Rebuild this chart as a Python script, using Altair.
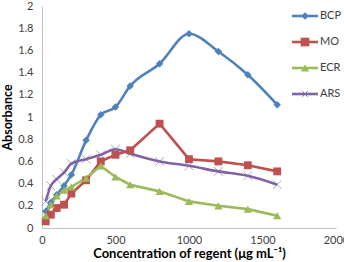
import altair as alt
import pandas as pd

# Reagent concentration (µg mL-1) and absorbance for each dye
conc = [25, 60, 100, 150, 200, 300, 400, 500, 600, 800, 1000, 1200, 1400, 1600]
bcp = [0.15, 0.23, 0.30, 0.38, 0.48, 0.79, 1.02, 1.09, 1.28, 1.48, 1.75, 1.59, 1.38, 1.11]
mo = [0.06, 0.12, 0.18, 0.21, 0.31, 0.43, 0.60, 0.66, 0.70, 0.94, 0.62, 0.60, 0.565, 0.51]
ecr = [0.11, 0.21, 0.29, 0.34, 0.37, 0.45, 0.56, 0.46, 0.39, 0.33, 0.24, 0.20, 0.17, 0.11]
ars = [0.24, 0.38, 0.44, 0.50, 0.58, 0.62, 0.66, 0.71, 0.67, 0.60, 0.56, 0.51, 0.47, 0.39]

names = ["BCP", "MO", "ECR", "ARS"]
colors = ["#4F81BD", "#C0504D", "#9BBB59", "#8064A2"]
shapes = ["diamond", "square", "triangle-up", "M-1,-1L1,1M-1,1L1,-1"]

rows = []
for name, vals in zip(names, [bcp, mo, ecr, ars]):
    for c, v in zip(conc, vals):
        rows.append({"dye": name, "conc": c, "abs": v})
df = pd.DataFrame(rows)

FONT = "Lato"
color = alt.Color("dye:N", scale=alt.Scale(domain=names, range=colors), legend=None)
x = alt.X(
    "conc:Q",
    scale=alt.Scale(domain=[0, 2000]),
    axis=alt.Axis(
        values=[0, 500, 1000, 1500, 2000], format="d",
        title="Concentration of regent (\u03bcg mL\u207b\u00b9)",
        titleFont=FONT, titleFontSize=13, titleFontWeight="bold", titleColor="#000000",
        titlePadding=2, grid=False, ticks=False, labelPadding=6,
        labelFont=FONT, labelFontSize=11, labelColor="#404040",
        domainColor="#BFBFBF", labelFlush=False,
    ),
)
y = alt.Y(
    "abs:Q",
    scale=alt.Scale(domain=[0, 2]),
    axis=alt.Axis(
        values=[0, 0.2, 0.4, 0.6, 0.8, 1, 1.2, 1.4, 1.6, 1.8, 2], format=".2~f",
        title="Absorbance", titleFont=FONT, titleFontSize=12.5, titleFontWeight="bold",
        titleColor="#000000", titlePadding=3, grid=False, ticks=False, labelPadding=9,
        labelFont=FONT, labelFontSize=11, labelColor="#404040",
        domainColor="#BFBFBF",
    ),
)

base = alt.Chart(df).encode(x=x, y=y, color=color)

smooth = base.transform_filter(
    alt.FieldOneOfPredicate(field="dye", oneOf=["BCP", "ARS"])
).mark_line(strokeWidth=2.6, interpolate="monotone")
straight = base.transform_filter(
    alt.FieldOneOfPredicate(field="dye", oneOf=["MO", "ECR"])
).mark_line(strokeWidth=2.6)

shape = alt.Shape("dye:N", scale=alt.Scale(domain=names, range=shapes), legend=None)
size = alt.Size("dye:N", scale=alt.Scale(domain=names, range=[55, 75, 70, 30]), legend=None)

filled_pts = base.transform_filter(
    alt.FieldOneOfPredicate(field="dye", oneOf=["BCP", "MO", "ECR"])
).mark_point(filled=True, opacity=1).encode(shape=shape, size=size)
cross_pts = base.transform_filter(
    alt.FieldEqualPredicate(field="dye", equal="ARS")
).mark_point(filled=False, opacity=0.6, strokeWidth=1).encode(shape=shape, size=size)

# Legend: line with marker and label for each dye, at the upper right
legend_layers = []
legend_sizes = [55, 75, 70, 30]
for i, (name, col, shp, sz) in enumerate(zip(names, colors, shapes, legend_sizes)):
    yy = 10 + 26 * i
    ld = alt.Chart(pd.DataFrame({"dye": [name]}))
    legend_layers.append(
        ld.mark_rule(color=col, strokeWidth=2.6).encode(
            x=alt.value(250), x2=alt.value(276), y=alt.value(yy)
        )
    )
    legend_layers.append(
        ld.mark_point(
            shape=shp, color=col, size=sz, filled=(i < 3), opacity=1,
            strokeWidth=1 if i == 3 else 0,
        ).encode(x=alt.value(263), y=alt.value(yy))
    )
    legend_layers.append(
        ld.mark_text(
            text=name, align="left", baseline="middle", font=FONT,
            fontSize=11, color="#404040",
        ).encode(x=alt.value(278), y=alt.value(yy))
    )

chart = alt.layer(smooth, straight, filled_pts, cross_pts, *legend_layers).properties(
    width=294,
    height=222,
    autosize="none",
    padding={"left": 42, "top": 6, "right": 8, "bottom": 34},
).configure_view(stroke=None)

chart.save("out.html", embed_options={"renderer": "svg", "actions": False})
